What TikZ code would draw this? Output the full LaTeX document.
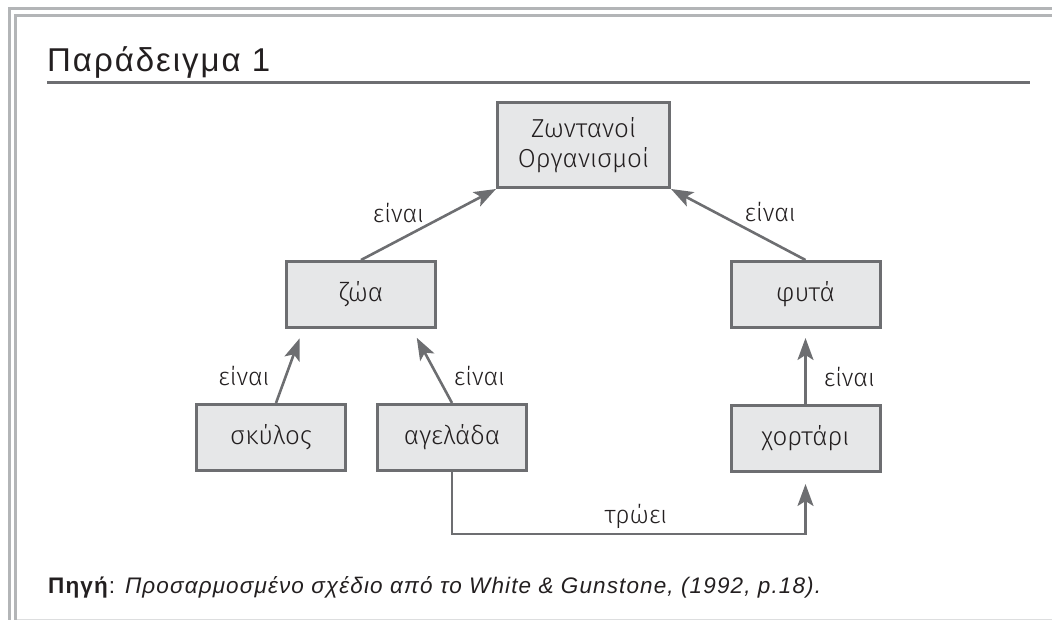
\documentclass[tikz,border=0pt]{standalone}
\usepackage{fontspec}
\setmainfont{Liberation Sans}
\newfontfamily\handfont{Fira Sans Light}
\newfontfamily\headfont[LetterSpace=6]{Liberation Sans}
\newfontfamily\srcfont[LetterSpace=5]{Liberation Sans}
\usetikzlibrary{arrows.meta,positioning}
\definecolor{boxfill}{HTML}{E6E7E8}
\definecolor{boxline}{HTML}{6D6E71}
\definecolor{framegray}{HTML}{B3B5B7}
\definecolor{inkgray}{HTML}{231F20}
\tikzset{
  concept/.style = {rectangle, draw=boxline, fill=boxfill, line width=3pt,
                    minimum width=149pt, minimum height=66pt, align=center,
                    text=inkgray, font=\handfont\fontsize{26}{30}\selectfont},
  isa/.style     = {-{Stealth[length=22pt,width=16pt,inset=5pt]}, line width=2.6pt, draw=boxline},
  lbl/.style     = {text=inkgray, inner sep=0pt, font=\handfont\fontsize{25}{28}\selectfont},
  frm/.style     = {draw=framegray, line width=3pt},
}

\begin{document}
\begin{tikzpicture}[x=1pt, y=-1pt]
  \useasboundingbox (0,0) rectangle (1052,620);

  % page frame
  \draw[frm] (9,620) -- (9,9) -- (1052,9);
  \draw[frm] (15.5,620) -- (15.5,15.5) -- (1052,15.5);
  \draw[framegray!45, line width=1pt] (17,619.5) -- (1052,619.5);

  \node[anchor=base west, inner sep=0pt, text=inkgray, font=\headfont\fontsize{33}{36}\selectfont] (title) at (47,72) {Παράδειγμα 1};
  \draw[boxline, line width=3pt] (47,83) -- (1030,83);

  \node[concept, minimum width=172pt, minimum height=85pt] (orgs) at (583.5,145) {Ζωντανοί\\ Οργανισμοί};
  \node[concept, below=71pt of orgs, xshift=-222.5pt] (zoa) {ζώα};
  \node[concept, below=71pt of orgs, xshift=222pt] (fyta) {φυτά};
  \node[concept, below=74pt of zoa, xshift=-90pt] (skylos) {σκύλος};
  \node[concept, right=29pt of skylos] (agelada) {αγελάδα};
  \node[concept, below=75pt of fyta] (xortari) {χορτάρι};

  \draw[isa] (zoa.north) -- node[lbl, left=25pt, pos=0.66] {είναι} (orgs.south west);
  \draw[isa] (fyta.north) -- node[lbl, right=28pt, pos=0.67] {είναι} (orgs.south east);
  \draw[isa, shorten >=10pt] ([xshift=5pt]skylos.north) -- node[lbl, left=15pt, pos=0.36] {είναι} ([xshift=-58pt]zoa.south);
  \draw[isa, shorten >=10pt] (agelada.north) -- node[lbl, right=15pt, pos=0.36] {είναι} ([xshift=51pt]zoa.south);
  \draw[isa, shorten >=9pt] (xortari.north) -- node[lbl, right=17pt, pos=0.36] {είναι} (fyta.south);
  \draw[isa, shorten >=11pt] (agelada.south) -- ++(0,62) -| node[lbl, above=4pt, pos=0.26] {τρώει} (xortari.south);

  \node[anchor=base west, inner sep=0pt, text=inkgray, font=\srcfont\fontsize{22.5}{24}\selectfont] (src) at (48,593)
    {\textbf{Πηγή}: \textit{Προσαρμοσμένο σχέδιο από το White \& Gunstone, (1992, p.18).}};
\end{tikzpicture}
\end{document}
